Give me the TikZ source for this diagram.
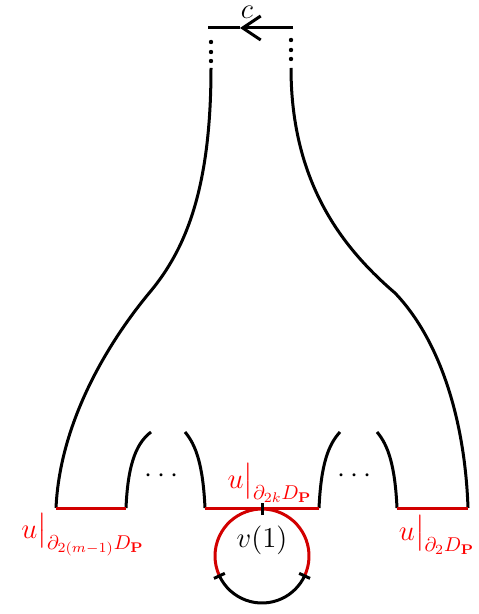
\documentclass[tikz,border=0pt]{standalone}
\usepackage{amsmath,amssymb}
\usetikzlibrary{arrows.meta}
\definecolor{bdryred}{RGB}{210,0,0}
\begin{document}
\begin{tikzpicture}[x=0.5pt,y=0.5pt,line width=1.5pt,
	bdry/.style={bdryred,line width=1.5pt},
	lbl/.style={text=red,font=\Large},
	vdot/.style={circle,fill,inner sep=0pt,minimum size=2.2pt}]
	\useasboundingbox (0,0) rectangle (478,-614);
	
	%top edge
	\draw[-{Straight Barb[length=9pt,width=12pt]}] (293,-28) -- (240,-28);
	\draw (240,-28) -- (208,-28);
	\node[inner sep=1pt] (c) at (247,-12) {\Large$c$};
	\foreach \y in {42,52,61}{
		\node[vdot] (ldot\y) at (211,-\y) {};
	}
	\foreach \y in {40,50,59}{
		\node[vdot] (rdot\y) at (291,-\y) {};
	}
	
	%outer boundary
	\draw (211,-68) .. controls (211,-190) and (185,-250) .. (150,-292)
		.. controls (110,-340) and (60,-420) .. (56,-508);
	\draw (291,-68) .. controls (291,-185) and (345,-250) .. (395,-293)
		.. controls (440,-340) and (465,-420) .. (468,-508);
	
	%inner legs
	\draw (126,-508) .. controls (128,-460) and (138,-442) .. (151,-432);
	\draw (185,-432) .. controls (196,-445) and (203,-465) .. (205,-508);
	\draw (319,-508) .. controls (321,-465) and (328,-445) .. (340,-432);
	\draw (377,-432) .. controls (388,-445) and (395,-465) .. (397,-508);
	\node (ldots) at (164,-476) {\Large$\cdots$};
	\node (rdots) at (357,-476) {\Large$\cdots$};
	
	%boundary pieces
	\draw[bdry] (56,-508) -- (126,-508);
	\draw[bdry] (205,-508) -- (319,-508);
	\draw[bdry] (397,-508) -- (468,-508);
	\node[lbl] (uleft) at (83,-535) {$u\big|_{\partial_{2(m-1)}D_{\mathbf{P}}}$};
	\node[lbl] (umid) at (270,-483) {$u\big|_{\partial_{2k}D_{\mathbf{P}}}$};
	\node[lbl] (uright) at (437,-535) {$u\big|_{\partial_2D_{\mathbf{P}}}$};
	
	%disc v
	\coordinate (vc) at (262,-556);
	\draw[bdry] (vc) ++(-25:47) arc[start angle=-25,end angle=205,radius=47];
	\draw (vc) ++(205:47) arc[start angle=205,end angle=335,radius=47];
	\foreach \a in {90,205,335}{
		\draw (vc) ++(\a:41) -- ++(\a:12);
	}
	\node (v1) at (262,-540) {\Large$v(1)$};
\end{tikzpicture}
\end{document}
